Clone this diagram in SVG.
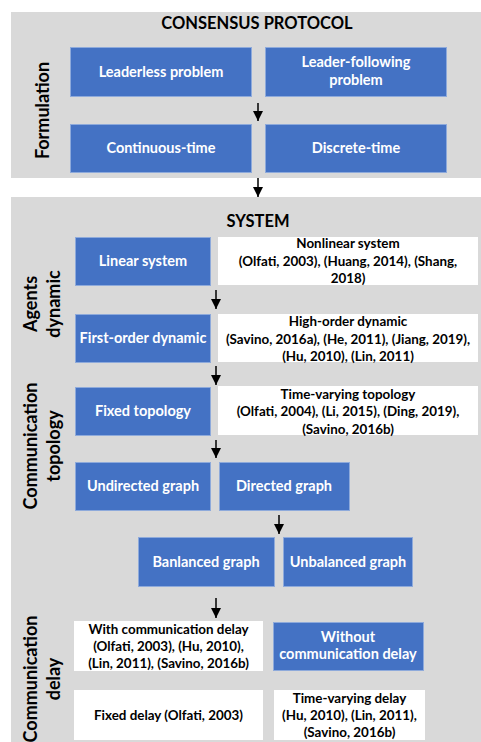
<svg xmlns="http://www.w3.org/2000/svg" width="481" height="742" viewBox="0 0 481 742">
  <defs>
    <marker id="arrowhead" viewBox="0 0 10 10" refX="10" refY="5" markerWidth="10" markerHeight="10" markerUnits="userSpaceOnUse" orient="auto">
      <path d="M0,0 L10,5 L0,10 z" fill="#000"/>
    </marker>
    <style>
      .panel { fill: #d9d9d9; }
      .blue { fill: #4472c4; stroke: #8eaadb; stroke-width: 1; }
      .white { fill: #ffffff; }
      text { font-family: Lato, "Open Sans", "Liberation Sans", sans-serif; font-weight: bold; text-anchor: middle; }
      .head { font-size: 16.5px; fill: #000; }
      .side { font-size: 18px; fill: #000; }
      .lbl { font-size: 14.5px; fill: #ffffff; }
      .ref { font-size: 13.4px; fill: #000; }
      .conn line { stroke: #000; stroke-width: 1.5; marker-end: url(#arrowhead); }
    </style>
  </defs>

  <rect width="481" height="742" fill="#ffffff"/>

  <!-- Formulation panel -->
  <g id="consensus-protocol">
    <rect class="panel" x="11" y="12" width="470" height="166"/>
    <text class="head" x="257" y="29">CONSENSUS PROTOCOL</text>
    <text class="side" transform="translate(49,110.5) rotate(-90)">Formulation</text>
  </g>

  <!-- System panel -->
  <g id="system">
    <rect class="panel" x="11" y="197" width="470" height="545"/>
    <text class="head" x="258" y="227">SYSTEM</text>
    <text class="side" transform="translate(36.7,304) rotate(-90)">Agents</text>
    <text class="side" transform="translate(60,304) rotate(-90)">dynamic</text>
    <text class="side" transform="translate(36.7,446) rotate(-90)">Communication</text>
    <text class="side" transform="translate(60,446) rotate(-90)">topology</text>
    <text class="side" transform="translate(36.7,679) rotate(-90)">Communication</text>
    <text class="side" transform="translate(60,679) rotate(-90)">delay</text>
  </g>

  <g id="leaderless">
    <rect class="blue" x="70.5" y="47.5" width="181" height="49"/>
    <text class="lbl" x="161" y="76.5">Leaderless problem</text>
  </g>
  <g id="leader-following">
    <rect class="blue" x="265.5" y="47.5" width="181" height="49"/>
    <text class="lbl" x="356" y="67">Leader-following</text>
    <text class="lbl" x="356" y="85">problem</text>
  </g>
  <g id="continuous-time">
    <rect class="blue" x="70.5" y="124.5" width="181" height="48"/>
    <text class="lbl" x="161" y="153">Continuous-time</text>
  </g>
  <g id="discrete-time">
    <rect class="blue" x="265.5" y="124.5" width="181" height="48"/>
    <text class="lbl" x="356" y="153">Discrete-time</text>
  </g>

  <g id="linear-system">
    <rect class="blue" x="75.5" y="237.5" width="135" height="48"/>
    <text class="lbl" x="143" y="265.5">Linear system</text>
  </g>
  <g id="nonlinear-system">
    <rect class="white" x="218" y="237" width="260" height="48"/>
    <text class="ref" x="348" y="247.5">Nonlinear system</text>
    <text class="ref" x="348" y="266">(Olfati, 2003), (Huang, 2014), (Shang,</text>
    <text class="ref" x="348" y="283">2018)</text>
  </g>

  <g id="first-order">
    <rect class="blue" x="75.5" y="314.5" width="135" height="48"/>
    <text class="lbl" x="143" y="343">First-order dynamic</text>
  </g>
  <g id="high-order">
    <rect class="white" x="218" y="314" width="260" height="48"/>
    <text class="ref" x="348" y="325.5">High-order dynamic</text>
    <text class="ref" x="348" y="343.5">(Savino, 2016a), (He, 2011), (Jiang, 2019),</text>
    <text class="ref" x="348" y="361">(Hu, 2010), (Lin, 2011)</text>
  </g>

  <g id="fixed-topology">
    <rect class="blue" x="75.5" y="387.5" width="135" height="48"/>
    <text class="lbl" x="143" y="415.5">Fixed topology</text>
  </g>
  <g id="time-varying-topology">
    <rect class="white" x="218" y="386" width="260" height="49"/>
    <text class="ref" x="348" y="398.5">Time-varying topology</text>
    <text class="ref" x="348" y="416">(Olfati, 2004), (Li, 2015), (Ding, 2019),</text>
    <text class="ref" x="348" y="433.5">(Savino, 2016b)</text>
  </g>

  <g id="undirected-graph">
    <rect class="blue" x="75.5" y="462.5" width="135" height="48"/>
    <text class="lbl" x="143" y="490.5">Undirected graph</text>
  </g>
  <g id="directed-graph">
    <rect class="blue" x="219.5" y="462.5" width="130" height="48"/>
    <text class="lbl" x="284" y="490.5">Directed graph</text>
  </g>

  <g id="balanced-graph">
    <rect class="blue" x="138.5" y="537.5" width="136" height="49"/>
    <text class="lbl" x="206" y="566.5">Banlanced graph</text>
  </g>
  <g id="unbalanced-graph">
    <rect class="blue" x="283.5" y="537.5" width="129" height="49"/>
    <text class="lbl" x="348" y="566.5">Unbalanced graph</text>
  </g>

  <g id="with-delay">
    <rect class="white" x="74" y="621" width="189" height="50"/>
    <text class="ref" x="168.5" y="633.5">With communication delay</text>
    <text class="ref" x="168.5" y="651">(Olfati, 2003), (Hu, 2010),</text>
    <text class="ref" x="168.5" y="667.5">(Lin, 2011), (Savino, 2016b)</text>
  </g>
  <g id="without-delay">
    <rect class="blue" x="273.5" y="622.5" width="150" height="48"/>
    <text class="lbl" x="348" y="641.5">Without</text>
    <text class="lbl" x="348" y="659">communication delay</text>
  </g>

  <g id="fixed-delay">
    <rect class="white" x="74" y="690" width="189" height="50"/>
    <text class="ref" x="168.5" y="720">Fixed delay (Olfati, 2003)</text>
  </g>
  <g id="time-varying-delay">
    <rect class="white" x="274" y="690" width="151" height="50"/>
    <text class="ref" x="349.5" y="703">Time-varying delay</text>
    <text class="ref" x="349.5" y="720">(Hu, 2010), (Lin, 2011),</text>
    <text class="ref" x="349.5" y="737">(Savino, 2016b)</text>
  </g>

  <!-- connectors -->
  <g id="connectors" class="conn">
    <line x1="258" y1="103" x2="258" y2="121"/>
    <line x1="258" y1="178" x2="258" y2="197"/>
    <line x1="216" y1="290" x2="216" y2="309"/>
    <line x1="216" y1="366" x2="216" y2="385"/>
    <line x1="216" y1="440" x2="216" y2="458"/>
    <line x1="279" y1="515" x2="279" y2="534"/>
    <line x1="216" y1="598" x2="216" y2="618"/>
  </g>
</svg>
